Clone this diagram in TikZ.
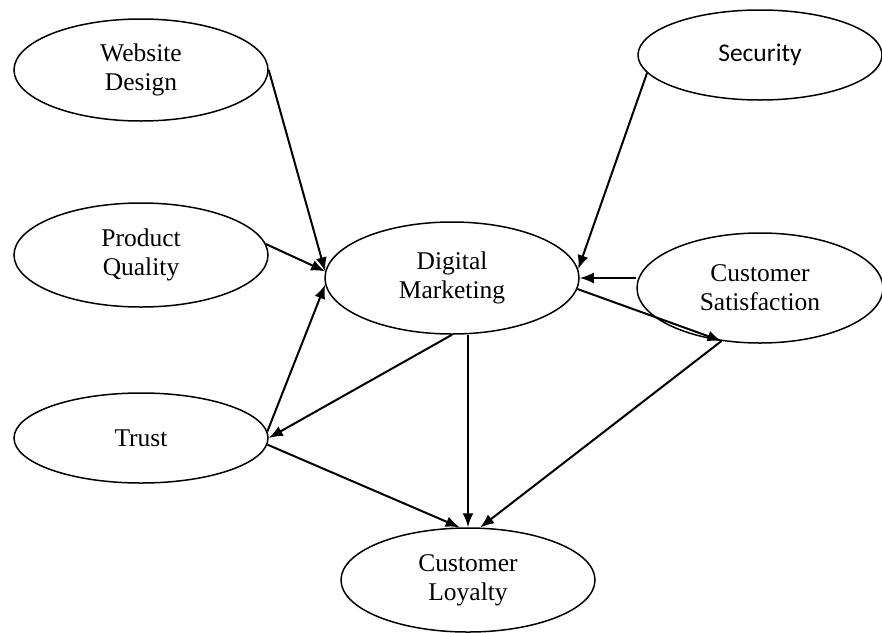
\documentclass[tikz,border=0pt]{standalone}
\usepackage{fontspec}
\setmainfont{Liberation Serif}
\newfontfamily\calfont{Carlito}
\usepackage{tikz}
\usetikzlibrary{shapes.geometric}
\usetikzlibrary{arrows.meta}
\begin{document}
\begin{tikzpicture}[x=1pt,y=-1pt,
    bulle/.style={draw,ellipse,line width=1.5pt,inner sep=0pt,align=center,font=\fontsize{25.5}{29}\selectfont},
    fleche/.style={line width=2pt,-{Latex[length=14pt,width=11pt]}}]
            \useasboundingbox (0,0) rectangle (882,632);
            \node[bulle,minimum width=254pt,minimum height=102pt] (WD) at (141,70) {Website\\Design};
            \node[bulle,minimum width=244pt,minimum height=90pt] (S) at (760,55) {\calfont\raisebox{5pt}{Security}};
            \node[bulle,minimum width=254pt,minimum height=104pt] (PQ) at (141,255) {Product\\Quality};
            \node[bulle,minimum width=254pt,minimum height=112pt] (DM) at (452,278) {Digital\\Marketing};
            \node[bulle,minimum width=246pt,minimum height=110pt] (CS) at (760,288) {Customer\\Satisfaction};
            \node[bulle,minimum width=254pt,minimum height=90pt] (T) at (141,438) {Trust};
            \node[bulle,minimum width=254pt,minimum height=104pt] (CL) at (468,580) {Customer\\Loyalty};
            \draw[fleche] (WD.east) -- (DM.177);
            \draw[fleche] (PQ.5) -- (DM.177);
            \draw[fleche] (T.3) -- (DM.183);
            \draw[fleche] (DM.south) -- (T.east);
            \draw[fleche] (S.189) -- (DM.4);
            \draw[fleche] (DM.east -| CS.west) -- (DM.east);
            \draw[fleche] (DM.-5) -- (CS.234);
            \draw[fleche] (CS.234) -- (CL.77);
            \draw[fleche] (CL.north |- DM.south) -- (CL.north);
            \draw[fleche] (T.-3) -- (CL.99);
        \end{tikzpicture}
\end{document}
